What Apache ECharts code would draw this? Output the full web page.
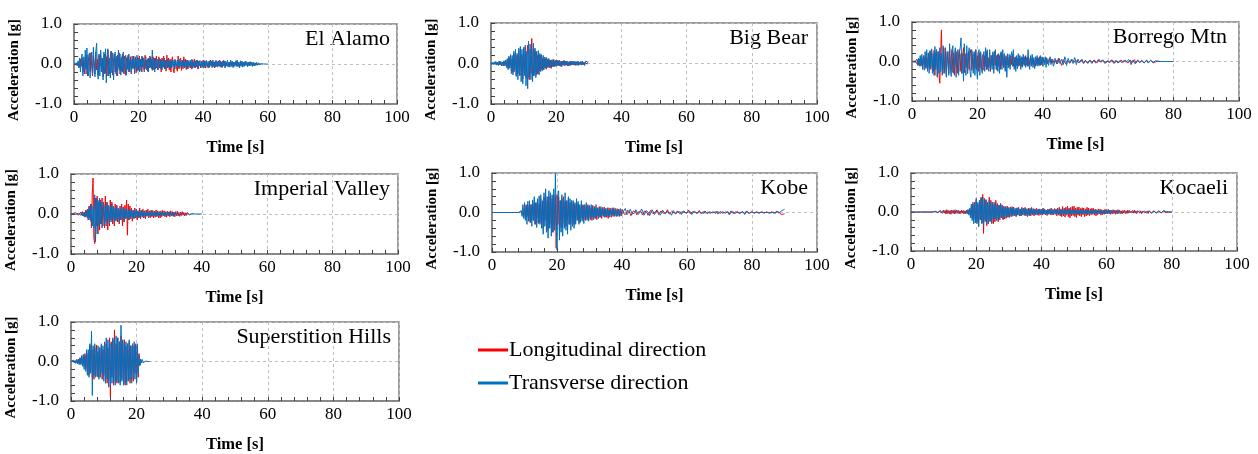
<!DOCTYPE html>
<html>
<head>
<meta charset="utf-8">
<script src="https://cdn.jsdelivr.net/npm/echarts@6/dist/echarts.min.js"></script>
<style>
  html, body { margin: 0; padding: 0; background: #fff; }
  #chart { width: 1258px; height: 454px; }
</style>
</head>
<body>
<div id="chart"></div>
<script>
// sample step of the digitised records [s]
const dt = 0.25;
const stations = ['El Alamo', 'Big Bear', 'Borrego Mtn', 'Imperial Valley', 'Kobe', 'Kocaeli', 'Superstition Hills'];
const xTicks = [0, 20, 40, 60, 80, 100];
const yTicks = [-1, 0, 1];

// acceleration [g], longitudinal (L) and transverse (T), one row = 5 s
const elAlamoL = [
  0, 0, .01, -.01, .02, -.03, .05, -.08, .12, -.06, .15, -.2, .1, -.25, .18, -.12, .22, -.3, .15, .25,
  -.18, .28, -.1, -.3, .2, .05, -.25, .3, -.15, .12, -.28, .22, -.05, .3, -.2, .15, -.32, .1, .25, -.22,
  .18, -.3, .35, -.1, -.25, .2, .32, -.15, -.28, .1, .25, -.2, .15, -.3, .22, -.08, .28, -.25, .12, -.18,
  .25, -.22, .1, .2, -.28, .15, -.12, .22, -.2, .08, .18, -.25, .12, -.1, .2, -.18, .15, -.22, .1, .17,
  -.15, .2, -.08, .12, -.2, .18, -.05, -.15, .22, -.12, .1, -.18, .15, -.1, .2, -.08, .12, -.16, .18, -.1,
  .15, -.12, .2, -.05, -.15, .18, -.1, .12, -.2, .15, -.08, .2, -.12, .1, -.18, .22, -.1, .15, -.15, .12,
  -.2, .1, .18, -.15, -.22, .12, .15, -.1, -.18, .2, -.12, .08, .15, -.16, .1, -.12, .18, -.08, .12, -.14,
  .1, -.12, .08, .12, -.1, .05, -.13, .1, -.06, .12, -.1, .08, -.07, .1, -.12, .06, .09, -.1, .07, -.08,
  .1, -.06, .08, -.1, .05, .07, -.09, .06, -.08, .1, -.04, .08, -.07, .05, -.1, .08, -.05, .06, -.08, .07,
  -.05, .08, -.06, .04, -.08, .09, -.05, .07, -.06, .03, .08, -.07, .05, -.06, .07, -.04, .06, -.07, .05, -.05,
  .06, -.04, .07, -.05, .03, -.06, .05, -.04, .06, -.03, .04, -.05, .06, -.03, .04, -.05, .03, -.04, .05, -.03,
  .04, -.03, .03, -.04, .02, -.03, .03, -.02, .02, -.01, .01, 0
];
const elAlamoT = [
  0, .01, -.02, .03, -.05, .08, -.1, .15, -.2, .12, .25, -.3, .18, -.15, .35, -.25, .4, -.2, -.3, .28,
  -.35, .2, .3, -.25, .42, -.15, -.32, .3, .52, -.2, -.38, .25, -.3, .35, -.2, .15, -.4, .3, -.25, .38,
  -.47, .2, .38, -.3, .15, -.35, .32, -.22, .28, -.4, .1, .3, -.25, .2, -.3, .35, -.15, .25, -.28, .18,
  -.2, .3, -.25, .12, .22, -.28, .18, -.15, .25, -.2, .1, -.22, .2, -.12, .15, -.25, .18, -.1, .22, -.18,
  .15, -.2, .12, -.18, .2, -.08, .15, -.2, .1, .18, -.15, .12, -.2, .15, -.1, .18, -.12, .35, -.15, .1,
  -.2, .15, -.1, .12, -.15, .08, .14, -.12, .1, -.15, .12, -.08, .15, -.12, .06, -.1, .12, -.08, .1, -.12,
  .08, -.1, .12, -.06, .1, -.12, .08, -.05, .1, -.08, .12, -.1, .06, -.08, .1, -.07, .12, -.1, .05, -.08,
  .1, -.12, .08, -.06, .1, -.08, .12, -.1, .05, -.09, .08, -.06, .1, -.12, .07, -.05, .09, -.1, .06, -.08,
  .07, -.1, .08, -.05, .09, -.07, .06, -.1, .08, -.04, .07, -.09, .1, -.06, .05, -.08, .09, -.07, .06, -.05,
  .1, -.08, .06, -.09, .07, -.05, .08, -.1, .06, -.04, .09, -.07, .05, -.08, .1, -.06, .07, -.09, .05, -.06,
  .08, -.06, .1, -.07, .05, -.1, .08, -.06, .07, -.08, .05, -.06, .07, -.04, .06, -.07, .05, -.05, .06, -.04,
  .05, -.06, .04, -.05, .03, -.04, .04, -.03, .03, -.02, .02, -.02, .01, -.01, .01, 0, 0, 0, 0, 0,
  0
];
const bigBearL = [
  .01, -.02, .02, -.01, .03, -.02, .04, -.03, .02, -.04, .05, -.03, .04, -.05, .03, -.06, .05, -.04, .08, -.06,
  .1, -.12, .15, -.08, .2, -.18, .12, -.22, .25, -.15, .28, -.3, .2, -.25, .32, -.2, .35, -.3, .22, -.38,
  .3, -.25, .4, -.35, .2, .45, -.3, -.4, .35, -.25, .62, -.2, -.3, .35, -.22, .3, -.28, .2, -.25, .22,
  -.18, .2, -.15, .12, -.16, .15, -.1, .12, -.14, .1, -.08, .12, -.1, .08, -.12, .06, -.08, .1, -.07, .08,
  -.06, .08, -.05, .07, -.06, .05, -.08, .06, -.04, .07, -.05, .06, -.04, .05, -.06, .04, -.05, .06, -.04, .05,
  -.03, .05, -.04, .03, -.05, .04, -.03, .05, -.04, .03, -.02, .04, -.03, .02, -.03, .02, -.02, .01, -.01, 0
];
const bigBearT = [
  .02, -.03, .03, -.02, .04, -.03, .05, -.04, .03, -.05, .06, -.04, .05, -.06, .04, -.05, .07, -.06, .08, -.1,
  .12, -.15, .18, -.12, .22, -.25, .2, -.28, .3, -.2, .35, -.32, .25, -.4, .38, -.3, .42, -.45, .35, -.5,
  .4, -.3, .45, -.55, .3, -.62, .55, -.35, .48, -.4, .35, -.45, .5, -.3, .38, -.35, .3, -.25, .32, -.28,
  .25, -.2, .22, -.18, .2, -.15, .16, -.12, .15, -.1, .12, -.1, .08, -.1, .09, -.07, .1, -.08, .06, -.07,
  .08, -.06, .07, -.05, .08, -.06, .05, -.07, .06, -.04, .07, -.05, .06, -.04, .05, -.06, .04, -.05, .06, -.04,
  .05, -.04, .06, -.03, .05, -.04, .06, -.05, .04, -.03, .05, -.04, .06, -.03, .04, -.05, .06, .02, .04, .03,
  .05
];
const borregoL = [
  0, 0, 0, .01, -.02, .03, -.05, .04, -.08, .06, .1, -.12, .08, -.1, .15, -.08, .12, -.18, .1, -.2,
  .22, -.15, .25, -.2, .3, -.1, -.25, .28, -.35, .2, .3, -.4, .25, -.3, -.55, .15, .8, -.2, -.3, .35,
  -.25, .3, -.35, .15, .25, -.3, .35, -.2, -.15, .3, -.28, .22, -.35, .3, -.1, .25, -.3, .2, .3, -.25,
  .2, -.3, .15, .35, -.28, .2, -.15, .22, -.3, .25, -.2, .18, .3, -.22, .1, -.25, .2, -.18, .3, -.2,
  .15, -.25, .22, -.15, .2, -.2, .1, .18, -.22, .15, -.12, .25, -.2, .1, -.15, .2, -.25, .15, -.1, .2,
  -.2, .25, -.1, .15, -.22, .18, -.12, .15, -.2, .22, -.1, .18, -.15, .12, -.18, .15, -.1, .12, -.15, .1,
  -.12, .15, -.08, .18, -.12, .1, -.15, .12, -.1, .08, -.12, .15, -.1, .08, -.12, .1, -.06, .12, -.1, .15,
  -.08, .1, -.12, .08, -.1, .12, -.06, .1, -.08, .05, .1, -.12, .08, -.06, .1, -.08, .12, -.1, .06, -.08,
  .1, .12, -.05, -.08, .1, .06, -.06, -.1, .08, .12, -.04, -.08, .06, .1, -.05, -.08, .04, .06, -.06, -.05,
  .08, .1, -.04, -.1, -.06, .05, .08, .04, -.06, -.08, .02, .07, .05, -.04, -.07, -.03, .05, .06, -.02, -.05,
  -.06, .02, .05, .04, -.03, -.06, -.02, .04, .05, -.01, -.05, -.04, .03, .06, .02, -.04, -.05, .01, .04, .03,
  -.02, -.05, -.03, .04, .05, .02, -.04, -.06, .01, .05, .04, -.02, -.05, -.03, .03, .06, .02, -.04, -.05, .02,
  .05, .03, -.03, -.05, -.02, .04, .05, .01, -.04, -.04, .02, .05, .03, -.03, -.05, -.01, .04, .04, -.02, -.04,
  -.03, .03, .05, .02, -.04, -.05, .01, .04, .03, -.03, -.04, .02, .05, .01, -.04, -.03, .03, .04, -.01, -.03,
  -.02, .03, .04, .01, -.03, -.04, .02, .03, .02, -.03, -.03, .01, .03, .02, -.02, -.03, .01, .02, -.01, -.02,
  .01, .01, -.01, 0, 0
];
const borregoT = [
  0, 0, .01, -.02, .03, -.05, .06, -.1, .08, -.12, .15, -.1, .18, -.2, .12, -.22, .25, -.15, .3, -.25,
  .2, -.3, .28, -.15, .32, -.3, .2, -.35, .38, -.2, .3, -.38, .25, -.3, .35, -.25, .2, -.35, .4, -.2,
  -.3, .35, -.4, .25, .3, -.35, .45, -.2, -.38, .3, .4, -.3, -.25, .35, -.4, .2, .3, -.35, .25, .35,
  .6, -.3, .2, -.5, .45, -.2, -.35, .4, -.3, .2, .35, -.25, -.4, .3, .2, -.3, .25, -.35, .3, -.15,
  -.45, .2, .3, -.35, .25, -.2, -.3, .15, .25, -.25, .35, -.2, .3, -.15, -.25, .3, -.2, .15, -.2, .25,
  -.3, .2, .3, -.2, .15, -.25, .2, -.3, .1, .25, -.2, .3, -.15, .2, -.25, .1, -.4, .2, -.15, .18,
  -.2, .15, .25, -.12, .3, -.2, .1, -.25, .15, -.18, .2, -.1, .15, -.2, .12, -.15, .18, -.1, .12, -.15,
  .1, -.12, .3, -.1, -.2, .15, -.12, .18, -.15, .1, -.18, .12, -.1, .15, -.12, .08, -.1, .15, -.08, .12,
  -.12, .1, -.08, .12, -.15, .08, .1, -.1, -.06, .12, -.08, .06, .1, -.12, -.05, .08, .1, -.06, -.1, .08,
  .12, -.05, -.1, .06, .1, -.08, -.06, .12, .05, -.1, -.06, .08, .1, -.04, -.08, .06, .08, -.05, -.07, .1,
  .04, -.08, -.05, .06, .07, -.03, -.08, -.02, .06, .05, -.04, -.07, .02, .06, .04, -.05, -.06, .03, .05, .02,
  -.05, -.06, .02, .06, .04, -.04, -.07, -.02, .05, .06, -.01, -.06, -.04, .04, .06, .02, -.05, -.07, .01, .04,
  .05, -.02, -.06, -.03, .04, .05, .01, -.05, -.04, .03, .06, .02, -.04, -.05, .02, .05, .03, -.03, -.06, -.01,
  .04, .05, -.02, -.06, -.03, .05, .06, -.01, -.08, -.05, .03, .05, .02, -.06, -.1, -.04, .04, .05, -.02, -.05,
  -.06, .02, .05, .03, -.04, -.05, .01, .04, .03, -.04, -.06, -.02, .03, .04, -.01, -.03, -.02, .02, .02, -.01,
  -.01, 0, 0, 0, 0, 0, 0, 0, 0, 0, 0, 0, 0, 0, 0, 0, 0, 0, 0, 0,
  0
];
const imperialL = [
  0, .01, -.01, .02, -.02, .01, .03, -.02, .04, -.03, .02, -.04, .05, -.03, .06, -.05, .04, -.08, .1, -.06,
  .12, -.15, .2, -.1, .25, -.35, .5, .9, -.6, -.74, .4, -.3, .45, -.5, .3, -.4, .35, -.25, .4, -.3,
  .25, -.35, .45, -.2, .3, -.4, .2, -.3, .35, -.15, .3, -.25, .2, -.3, .25, -.15, .22, -.2, .15, -.25,
  .2, -.15, .25, -.3, .18, -.2, .22, -.12, .35, -.53, .25, -.15, .2, -.12, .15, -.18, .1, -.12, .15, -.1,
  .12, -.15, .08, -.1, .15, -.12, .1, -.08, .12, -.1, .08, -.12, .1, -.06, .12, -.1, .08, -.09, .1, -.07,
  .09, -.1, .07, -.08, .1, -.06, .08, -.09, .06, -.1, .08, -.07, .09, -.05, .08, -.07, .06, -.08, .07, -.05,
  .06, -.07, .08, -.05, .06, -.06, .05, -.07, .06, -.04, .07, -.05, .04, -.06, .05, -.04, .06, -.03, .04, -.05,
  .03, -.04, .03, -.02, .02, -.01, .01, 0
];
const imperialT = [
  0, .01, -.01, .01, -.02, .02, -.01, .03, -.02, .02, -.03, .04, -.03, .05, -.04, .03, -.06, .05, -.07, .08,
  -.1, .12, -.15, .2, -.18, .25, -.3, .2, -.35, .48, -.7, .4, -.5, .35, -.3, .4, -.25, .3, -.35, .2,
  .3, -.25, .2, -.3, .28, -.15, .22, -.25, .18, -.2, .25, -.12, .2, -.22, .15, -.18, .2, -.12, .15, -.2,
  .12, -.15, .18, -.1, .15, -.2, .12, -.1, .15, -.12, .1, -.15, .12, -.08, .1, -.12, .08, -.1, .12, -.08,
  .1, -.07, .08, -.1, .06, -.08, .1, -.06, .07, -.08, .05, -.07, .08, -.05, .06, -.07, .05, -.06, .07, -.05,
  .06, -.05, .07, -.04, .05, -.06, .04, -.05, .06, -.04, .05, -.03, .06, -.05, .04, -.04, .05, -.03, .04, -.04,
  .05, -.03, .04, -.04, .03, -.05, .04, -.03, .03, -.04, .03, -.02, .04, -.03, .02, -.03, .03, -.02, .02, -.03,
  .02, -.02, .03, -.01, .02, -.02, .01, -.01, .01, 0, .01, 0, 0, 0, 0, 0, 0, 0, 0, 0,
  0
];
const kobeL = [
  0, 0, 0, 0, 0, 0, 0, 0, 0, 0, 0, 0, 0, 0, 0, 0, 0, 0, 0, 0,
  0, 0, 0, 0, 0, 0, 0, 0, 0, 0, 0, 0, 0, 0, 0, 0, .02, -.03, .05, -.08,
  .12, -.15, .2, -.1, .18, -.22, .15, -.25, .2, -.18, .28, -.2, .22, -.3, .25, -.15, .3, -.28, .2, -.25,
  .35, -.3, .25, -.4, .38, -.2, .42, -.35, .3, -.45, .4, -.3, .45, -.4, .35, -.5, .45, -.3, .4, -.9,
  .45, -.3, .4, -.45, .3, -.38, .35, -.25, .4, -.3, .28, -.35, .3, -.2, .35, -.3, .25, -.28, .3, -.2,
  .25, -.3, .2, -.22, .28, -.18, .22, -.25, .15, -.2, .22, -.15, .2, -.18, .12, -.2, .18, -.15, .2, -.12,
  .15, -.18, .12, -.2, .18, -.1, .15, -.15, .1, -.18, .12, -.1, .15, -.12, .1, -.15, .12, -.08, .14, -.12,
  .1, -.12, .08, -.15, .12, -.06, .1, -.12, .08, -.1, .12, -.08, .06, -.1, .1, -.07, .08, -.1, .06, -.08,
  .08, .1, .04, -.05, -.1, -.08, -.02, .06, .1, .06, -.02, -.08, -.1, -.04, .04, .09, .08, .01, -.06, -.09,
  -.05, .03, .08, .07, .01, -.06, -.08, -.04, .04, .08, .06, -.01, -.07, -.08, -.02, .05, .08, .05, -.03, -.07,
  -.06, .01, .06, .07, .02, -.05, -.07, -.03, .04, .07, .05, -.02, -.06, -.06, 0, .05, .07, .03, -.04, -.06,
  -.04, .02, .06, .05, -.01, -.05, -.06, -.02, .04, .06, .03, -.03, -.06, -.04, .02, .06, .05, 0, -.05, -.05,
  -.01, .04, .06, .03, -.03, -.06, -.04, .02, .05, .05, 0, -.05, -.05, -.01, .04, .05, .02, -.03, -.05, -.03,
  .02, .05, .04, -.01, -.05, -.04, .01, .05, .04, -.02, -.05, -.03, .02, .05, .03, -.02, -.05, -.03, .02, .04,
  .03, -.02, -.04, -.03, .02, .04, .03, -.02, -.04, -.02, .02, .04, .02, -.03, -.04, -.01, .03, .04, .01, -.03,
  -.04, -.01, .03, .04, .01, -.03, -.04, 0, .03, .04, .01, -.03, -.04, -.01, .03, .04, .02, -.02, -.04, -.02,
  .02, .04, .02, -.02, -.04, -.02, .02, .04, .02, -.02, -.04, -.02, .02, .03, .02, -.02, -.03, -.02, .02, .03,
  .02, -.02, -.03, -.01, .02, .03, .01, -.02, -.03, -.01, .02, .04, .03, .01, -.02, -.04, -.05, -.04, -.03, -.04,
  -.03
];
const kobeT = [
  0, 0, 0, 0, 0, 0, 0, 0, 0, 0, 0, 0, 0, 0, 0, 0, 0, 0, 0, 0,
  0, 0, 0, 0, 0, 0, 0, 0, 0, 0, 0, 0, 0, 0, 0, 0, .05, -.1, .2, -.15,
  .25, -.2, .15, -.3, .28, -.18, .3, -.25, .2, -.35, .32, -.2, .4, -.3, .25, -.38, .35, -.25, .42, -.3,
  .45, -.4, .3, -.55, .5, -.35, .6, -.5, .4, -.65, .55, -.4, .5, -.6, .45, -.5, .6, -.45, 1.0, -.3,
  -.95, .4, .55, -.7, .3, -.5, .45, -.6, .35, -.4, .5, -.45, .3, -.55, .4, -.3, .35, -.45, .3, -.35,
  .3, -.4, .25, -.3, .35, -.2, .28, -.3, .2, -.25, .3, -.22, .18, -.28, .2, -.15, .25, -.2, .15, -.22,
  .18, -.15, .2, -.12, .15, -.18, .1, -.15, .2, -.1, .12, -.15, .1, -.12, .15, -.08, .12, -.1, .08, -.12,
  .1, -.08, .12, -.1, .06, -.12, .1, -.08, .12, -.06, .08, -.1, .1, -.08, .06, -.1, .08, -.06, .1, -.08,
  -.1, -.05, .04, .09, .1, .03, -.06, -.1, -.07, .02, .08, .1, .05, -.04, -.09, -.08, 0, .07, .1, .04,
  -.05, -.1, -.06, .03, .09, .08, .01, -.07, -.09, -.03, .05, .09, .06, -.02, -.08, -.07, .01, .07, .08, .02,
  -.05, -.08, -.04, .04, .08, .06, -.01, -.07, -.07, 0, .06, .08, .03, -.04, -.08, -.05, .02, .07, .06, -.01,
  -.06, -.07, -.02, .05, .07, .04, -.03, -.07, -.05, .02, .06, .06, .01, -.05, -.07, -.03, .04, .07, .04, -.02,
  -.06, -.05, .01, .06, .06, .01, -.05, -.06, -.02, .04, .06, .03, -.03, -.06, -.04, .02, .06, .05, -.01, -.05,
  -.06, -.02, .04, .06, .03, -.03, -.06, -.04, .02, .06, .05, -.01, -.05, -.05, .01, .05, .06, .02, -.04, -.06,
  -.03, .03, .06, .04, -.02, -.06, -.05, .01, .05, .05, .01, -.04, -.06, -.02, .04, .05, .02, -.03, -.05, -.03,
  .02, .05, .04, -.01, -.05, -.05, 0, .05, .05, .01, -.04, -.05, -.02, .04, .05, .02, -.03, -.05, -.03, .02,
  .05, .04, -.01, -.05, -.04, .01, .05, .04, -.01, -.05, -.04, .01, .04, .04, 0, -.04, -.04, 0, .04, .04,
  0, -.04, -.05, -.01, .03, .04, .01, -.03, -.04, -.02, .02, .04, .02, -.02, -.03, .01, .04, .06, .05, .07,
  .08
];
const kocaeliL = [
  0, 0, 0, 0, 0, 0, 0, 0, 0, 0, 0, 0, 0, 0, 0, 0, 0, 0, 0, 0,
  0, 0, 0, 0, 0, 0, 0, 0, .01, -.01, .02, -.01, .02, -.02, .03, -.02, .04, -.03, .02, -.04,
  .05, -.03, .04, -.05, .06, -.04, .03, -.05, .04, -.06, .05, -.03, .04, -.05, .06, -.04, .05, -.03, .04, -.05,
  .03, -.04, .05, -.03, .04, -.05, .03, -.04, .05, -.04, .06, -.05, .08, -.1, .12, -.15, .2, -.18, .25, -.22,
  .3, -.25, .2, -.35, .3, -.2, .38, -.3, .45, -.55, .35, -.2, .3, -.35, .25, -.3, .38, -.25, .3, -.28,
  .25, -.3, .2, -.25, .3, -.18, .22, -.25, .18, -.2, .22, -.15, .18, -.2, .15, -.18, .12, -.16, .15, -.12,
  .12, -.14, .1, -.12, .14, -.08, .12, -.1, .08, -.12, .1, -.08, .12, -.1, .07, -.1, .12, -.08, .1, -.07,
  .12, -.1, .08, -.12, .1, -.07, .09, -.1, .12, -.08, .06, -.1, .08, -.07, .1, -.08, .06, -.09, .08, -.06,
  .07, -.08, .1, -.06, .08, -.07, .05, -.09, .07, -.06, .08, -.05, .1, -.08, .06, -.07, .09, -.06, .08, -.1,
  .1, -.08, .12, -.1, .08, -.12, .14, -.1, .1, -.13, .12, -.08, .15, -.12, .1, -.15, .12, -.1, .14, -.09,
  .15, -.12, .1, -.14, .12, -.08, .13, -.1, .09, -.12, .11, -.07, .1, -.12, .08, -.1, .12, -.08, .1, -.09,
  .08, -.07, .1, -.06, .09, -.08, .07, -.1, .06, -.07, .08, -.05, .07, -.08, .06, -.07, .05, -.06, .07, -.05,
  .06, -.05, .07, -.04, .05, -.06, .04, -.05, .06, -.04, .05, -.06, .04, -.05, .06, -.03, .05, -.04, .03, -.05,
  .04, -.03, .05, -.04, .03, -.04, .05, -.03, .04, -.02, .03, -.04, .04, -.03, .05, -.03, .03, -.04, .03, -.02,
  .04, -.03, .03, -.04, .02, -.03, .04, -.02, .03, -.03, .02, -.04, .03, -.02, .04, -.03, .02, -.03, .03, -.02,
  .03, -.02, .02, -.03, .02, -.02, .03, -.02, .02, -.01, .02, -.02, .01, -.01, .02, .01, -.01, .01, 0, 0,
  0
];
const kocaeliT = [
  0, 0, 0, 0, 0, 0, 0, 0, 0, 0, 0, 0, 0, 0, 0, 0, 0, 0, 0, 0,
  0, 0, 0, 0, 0, 0, 0, 0, .01, -.01, .01, -.02, .01, -.01, .02, -.02, .03, -.02, .02, -.03,
  .03, -.02, .04, -.03, .02, -.04, .03, -.02, .04, -.03, .03, -.02, .04, -.03, .02, -.04, .03, -.03, .04, -.02,
  .03, -.04, .02, -.03, .04, -.03, .02, -.04, .03, -.05, .06, -.08, .1, -.15, .2, -.22, .25, -.3, .2, -.28,
  .35, -.3, .25, -.38, .3, -.2, .35, -.28, .38, -.35, .3, -.25, .32, -.3, .2, -.28, .3, -.22, .25, -.3,
  .22, -.2, .25, -.18, .2, -.22, .15, -.2, .18, -.15, .2, -.12, .16, -.18, .12, -.15, .14, -.1, .12, -.14,
  .1, -.12, .13, -.08, .1, -.11, .12, -.08, .09, -.1, .11, -.07, .1, -.09, .08, -.1, .09, -.06, .08, -.09,
  .1, -.07, .08, -.09, .07, -.1, .09, -.06, .08, -.07, .09, -.05, .07, -.08, .06, -.07, .08, -.05, .06, -.07,
  .07, -.06, .08, -.05, .06, -.07, .05, -.06, .07, -.05, .06, -.07, .08, -.05, .06, -.06, .07, -.04, .06, -.05,
  .08, -.06, .07, -.08, .05, -.07, .08, -.06, .07, -.05, .06, -.08, .07, -.05, .08, -.06, .05, -.07, .06, -.05,
  .06, -.07, .05, -.06, .07, -.05, .06, -.04, .05, -.06, .07, -.05, .04, -.06, .05, -.04, .06, -.05, .04, -.05,
  .05, -.04, .06, -.05, .04, -.05, .06, -.04, .05, -.03, .04, -.05, .05, -.04, .03, -.05, .04, -.03, .05, -.04,
  .04, -.05, .03, -.04, .05, -.03, .04, -.03, .04, -.02, .03, -.04, .04, -.03, .03, -.04, .02, -.03, .04, -.02,
  .03, -.04, .02, -.03, .04, -.02, .03, -.03, .02, -.03, .03, -.02, .03, -.03, .02, -.03, .03, -.02, .02, -.03,
  .03, -.02, .04, -.03, .02, -.03, .03, -.02, .03, -.02, .02, -.03, .03, -.02, .02, -.02, .03, -.02, .02, -.03,
  .02, -.03, .02, -.02, .03, -.02, .02, -.02, .03, -.02, .04, .02, .03, .01, .02, .01, .01, 0, 0, 0,
  0
];
const superstitionL = [
  0, .01, -.02, .02, -.03, .04, -.02, .05, -.04, .06, -.05, .08, -.06, .12, -.1, .15, -.12, .2, -.18, .25,
  -.3, .2, -.35, .4, -.25, .45, -.4, .3, -.45, .35, -.3, .42, -.38, .25, -.4, .35, -.3, .4, -.45, .3,
  -.35, .5, -.4, .45, -.55, .35, -.45, .6, -.9, .5, -.4, .55, -.6, .8, -.5, .45, -.55, .6, -.4, .5,
  -.55, .65, -.45, .5, -.4, .55, -.6, .4, -.5, .45, -.35, .5, -.55, .4, -.45, .35, -.5, .4, -.3, .45,
  -.5, .3, -.4, .2, -.1, .05, 0
];
const superstitionT = [
  0, .01, -.02, .03, -.04, .03, -.05, .04, -.06, .05, -.08, .1, -.08, .15, -.12, .18, -.2, .15, -.25, .3,
  -.35, .3, -.4, .45, -.3, .77, -.86, .4, -.35, .45, -.4, .3, -.38, .4, -.45, .35, -.4, .45, -.3, .4,
  -.5, .45, -.55, .6, -.45, .55, -.65, .5, -.6, .45, -.55, .6, -.5, .55, -.6, .65, -.5, .6, -.55, .5,
  -.6, .92, -.5, .55, -.6, .45, -.55, .5, -.6, .45, -.5, .55, -.45, .4, -.55, .45, -.4, .5, -.45, .4,
  -.55, .45, -.3, .15, -.1, .06, -.04, .05, -.03, .02, -.02, .01, -.01, .01, 0, 0, 0
];

const longitudinal = [elAlamoL, bigBearL, borregoL, imperialL, kobeL, kocaeliL, superstitionL];
const transverse = [elAlamoT, bigBearT, borregoT, imperialT, kobeT, kocaeliT, superstitionT];

// plot boxes in px, nameInset = gap between station name and right frame
const boxes = [
  { left: 74, top: 24, width: 323, height: 80, nameInset: 7 },
  { left: 491, top: 23, width: 326, height: 81, nameInset: 9 },
  { left: 912, top: 22, width: 327, height: 79, nameInset: 12 },
  { left: 71, top: 174, width: 327, height: 80, nameInset: 8 },
  { left: 492, top: 173, width: 325, height: 79, nameInset: 9 },
  { left: 911, top: 173, width: 326, height: 78, nameInset: 9 },
  { left: 71, top: 322, width: 328, height: 79, nameInset: 8 }
];

const font = '"Liberation Serif", "Times New Roman", serif';
const frameColor = '#7f7f7f';
const toPairs = arr => arr.map((v, i) => [i * dt, v]);

const chart = echarts.init(document.getElementById('chart'), null, { renderer: 'canvas' });

const grid = boxes.map(b => ({
  left: b.left, top: b.top, width: b.width, height: b.height,
  show: true, borderColor: frameColor, borderWidth: 1.5,
  containLabel: false, outerBoundsMode: 'none'
}));

const xAxis = boxes.map((b, i) => ({
  type: 'value', gridIndex: i,
  min: xTicks[0], max: xTicks[xTicks.length - 1], interval: xTicks[1] - xTicks[0],
  name: 'Time [s]', nameLocation: 'middle', nameGap: 35,
  nameTextStyle: { fontFamily: font, fontSize: 16.5, fontWeight: 'bold', color: '#000' },
  axisLine: { onZero: false, lineStyle: { color: frameColor, width: 1.5 } },
  axisTick: { inside: true, length: 4, lineStyle: { color: '#404040' } },
  minorTick: { show: true, splitNumber: 5, length: 4, lineStyle: { color: '#404040' } },
  axisLabel: { fontFamily: font, fontSize: 17, color: '#000', margin: 5 },
  splitLine: { show: true, lineStyle: { type: [3, 3], color: '#bfbfbf', width: 1 } }
}));

const yAxis = boxes.map((b, i) => ({
  type: 'value', gridIndex: i,
  min: yTicks[0], max: yTicks[yTicks.length - 1], interval: yTicks[1] - yTicks[0],
  name: 'Acceleration [g]', nameLocation: 'middle', nameGap: 52, nameRotate: 90,
  nameTextStyle: { fontFamily: font, fontSize: 15, fontWeight: 'bold', color: '#000', padding: [0, 12, 0, 0] },
  axisLine: { lineStyle: { color: frameColor, width: 1.5 } },
  axisTick: { inside: true, length: 4, lineStyle: { color: '#404040' } },
  minorTick: { show: true, splitNumber: 5, length: 4, lineStyle: { color: '#404040' } },
  axisLabel: { fontFamily: font, fontSize: 17, color: '#000', margin: 12, formatter: v => v.toFixed(1) },
  splitLine: { show: true, lineStyle: { type: [3, 3], color: '#bfbfbf', width: 1 } }
}));

const series = [];
boxes.forEach((b, i) => {
  series.push({
    name: 'Longitudinal direction', type: 'line', xAxisIndex: i, yAxisIndex: i,
    data: toPairs(longitudinal[i]), showSymbol: false, symbol: 'none',
    lineStyle: { color: '#FF0000', width: 1 }, itemStyle: { color: '#FF0000' }
  });
  series.push({
    name: 'Transverse direction', type: 'line', xAxisIndex: i, yAxisIndex: i,
    data: toPairs(transverse[i]), showSymbol: false, symbol: 'none',
    lineStyle: { color: '#0070C0', width: 1 }, itemStyle: { color: '#0070C0' }
  });
});

// station names, top right inside each box
const graphic = boxes.map((b, i) => ({
  type: 'text',
  x: b.left + b.width - b.nameInset,
  y: b.top + 15,
  style: {
    text: stations[i], fontFamily: font, fontSize: 22, fill: '#000',
    textAlign: 'right', textVerticalAlign: 'middle'
  }
}));

chart.setOption({
  animation: false,
  grid, xAxis, yAxis, series, graphic,
  legend: {
    data: ['Longitudinal direction', 'Transverse direction'],
    orient: 'vertical', left: 473, top: 334,
    icon: 'rect', itemWidth: 30, itemHeight: 3, itemGap: 11,
    textStyle: { fontFamily: font, fontSize: 22, color: '#000', padding: [0, 0, 0, -4] }
  }
});
</script>
</body>
</html>
